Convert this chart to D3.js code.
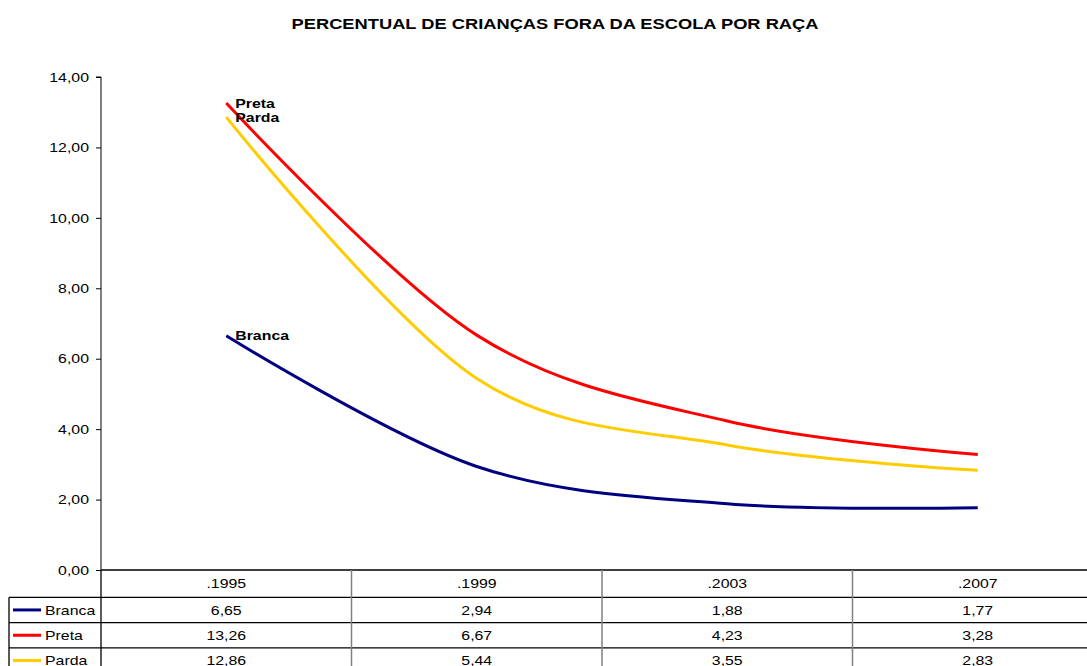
<!DOCTYPE html>
<html>
<head>
<meta charset="utf-8">
<script src="https://cdn.jsdelivr.net/npm/d3@7/dist/d3.min.js"></script>
<style>
  html, body { margin: 0; padding: 0; background: #fff; }
  svg { display: block; font-family: "Liberation Sans", Arial, sans-serif; }
</style>
</head>
<body>
<svg id="chart" width="1087" height="666"></svg>
<script>
// Data
const years = [".1995", ".1999", ".2003", ".2007"];
const branca = [6.65, 2.94, 1.88, 1.77];
const preta = [13.26, 6.67, 4.23, 3.28];
const parda = [12.86, 5.44, 3.55, 2.83];
const seriesNames = ["Branca", "Preta", "Parda"];
const seriesColors = ["#000080", "#FF0000", "#FFCC00"];
const yTicks = [0, 2, 4, 6, 8, 10, 12, 14];

const seriesValues = [branca, preta, parda];
const series = seriesNames.map((name, i) => ({ name, color: seriesColors[i], values: seriesValues[i] }));

const svg = d3.select("#chart");
const plotLeft = 101, plotRight = 1103, plotTop = 77, plotBottom = 570;
const rowH = 25.3;
const sx = 1.22; // horizontal text stretch

const x = d3.scaleBand().domain(years).range([plotLeft, plotRight]).padding(0);
const y = d3.scaleLinear().domain([0, 14]).range([plotBottom, plotTop]);
const fmt = v => d3.format(".2f")(v).replace(".", ",");

// Draw a text at (px, py) with wide glyphs
function wideText(parent, px, py, str) {
  return parent.append("text")
    .attr("transform", `translate(${px},${py}) scale(${sx},1)`)
    .text(str);
}

// Title
wideText(svg, 555, 29, "PERCENTUAL DE CRIANÇAS FORA DA ESCOLA POR RAÇA")
  .attr("text-anchor", "middle")
  .attr("font-weight", "bold").attr("font-size", 15);

// Y axis
const yAxis = d3.axisLeft(y).tickValues(yTicks).tickFormat(fmt).tickSize(5).tickPadding(5);
const gy = svg.append("g").attr("transform", `translate(${plotLeft},0)`).call(yAxis);
gy.select(".domain").attr("stroke", "#000").attr("d", `M-5,${plotTop}H0V${plotBottom}`);
gy.selectAll(".tick line").attr("stroke", "#000");
gy.selectAll(".tick text")
  .attr("x", -12 / sx)
  .attr("transform", `scale(${sx},1)`)
  .attr("font-size", 13).attr("fill", "#000")
  .attr("font-family", "Liberation Sans, Arial, sans-serif");

// Lines
const line = d3.line()
  .x((d, i) => x(years[i]) + x.bandwidth() / 2)
  .y(d => y(d))
  .curve(d3.curveCardinal.tension(0));

svg.append("g").selectAll("path")
  .data(series)
  .join("path")
  .attr("d", d => line(d.values))
  .attr("fill", "none")
  .attr("stroke", d => d.color)
  .attr("stroke-width", 3)
  .attr("stroke-linejoin", "round");

// Series labels at the first point
const labels = svg.append("g");
series.forEach(s => {
  wideText(labels, x(years[0]) + x.bandwidth() / 2 + 9, y(s.values[0]), s.name)
    .attr("dy", "0.35em")
    .attr("font-size", 13).attr("font-weight", "bold");
});

// Data table
const table = svg.append("g");
const legendLeft = 9;
// horizontal rules
table.append("line").attr("x1", plotLeft).attr("x2", plotRight).attr("y1", plotBottom).attr("y2", plotBottom)
  .attr("stroke", "#000").attr("stroke-width", 1.3);
for (let r = 1; r <= 3; r++) {
  const yy = plotBottom + r * rowH + 2;
  table.append("line").attr("x1", legendLeft).attr("x2", plotRight).attr("y1", yy).attr("y2", yy)
    .attr("stroke", "#000").attr("stroke-width", 1.3);
}
// vertical rules
years.forEach((yr, i) => {
  if (i === 0) return;
  table.append("line").attr("x1", x(yr)).attr("x2", x(yr)).attr("y1", plotBottom).attr("y2", 666)
    .attr("stroke", "#808080").attr("stroke-width", 1.5);
});
table.append("line").attr("x1", plotLeft).attr("x2", plotLeft).attr("y1", plotBottom).attr("y2", 666)
  .attr("stroke", "#000").attr("stroke-width", 1.3);
table.append("line").attr("x1", legendLeft).attr("x2", legendLeft).attr("y1", plotBottom + rowH + 2).attr("y2", 666)
  .attr("stroke", "#000").attr("stroke-width", 1.3);

// category row
years.forEach(yr => {
  wideText(table, x(yr) + x.bandwidth() / 2, plotBottom + rowH / 2 + 1, yr)
    .attr("dy", "0.35em")
    .attr("text-anchor", "middle").attr("font-size", 13);
});

// value rows
series.forEach((s, r) => {
  const cy = plotBottom + (r + 1) * rowH + 2 + rowH / 2;
  table.append("line")
    .attr("x1", 13).attr("x2", 41).attr("y1", cy).attr("y2", cy)
    .attr("stroke", s.color).attr("stroke-width", 3);
  wideText(table, 45, cy, s.name)
    .attr("dy", "0.35em").attr("font-size", 13);
  s.values.forEach((v, i) => {
    wideText(table, x(years[i]) + x.bandwidth() / 2, cy, fmt(v))
      .attr("dy", "0.35em")
      .attr("text-anchor", "middle").attr("font-size", 13);
  });
});
</script>
</body>
</html>
